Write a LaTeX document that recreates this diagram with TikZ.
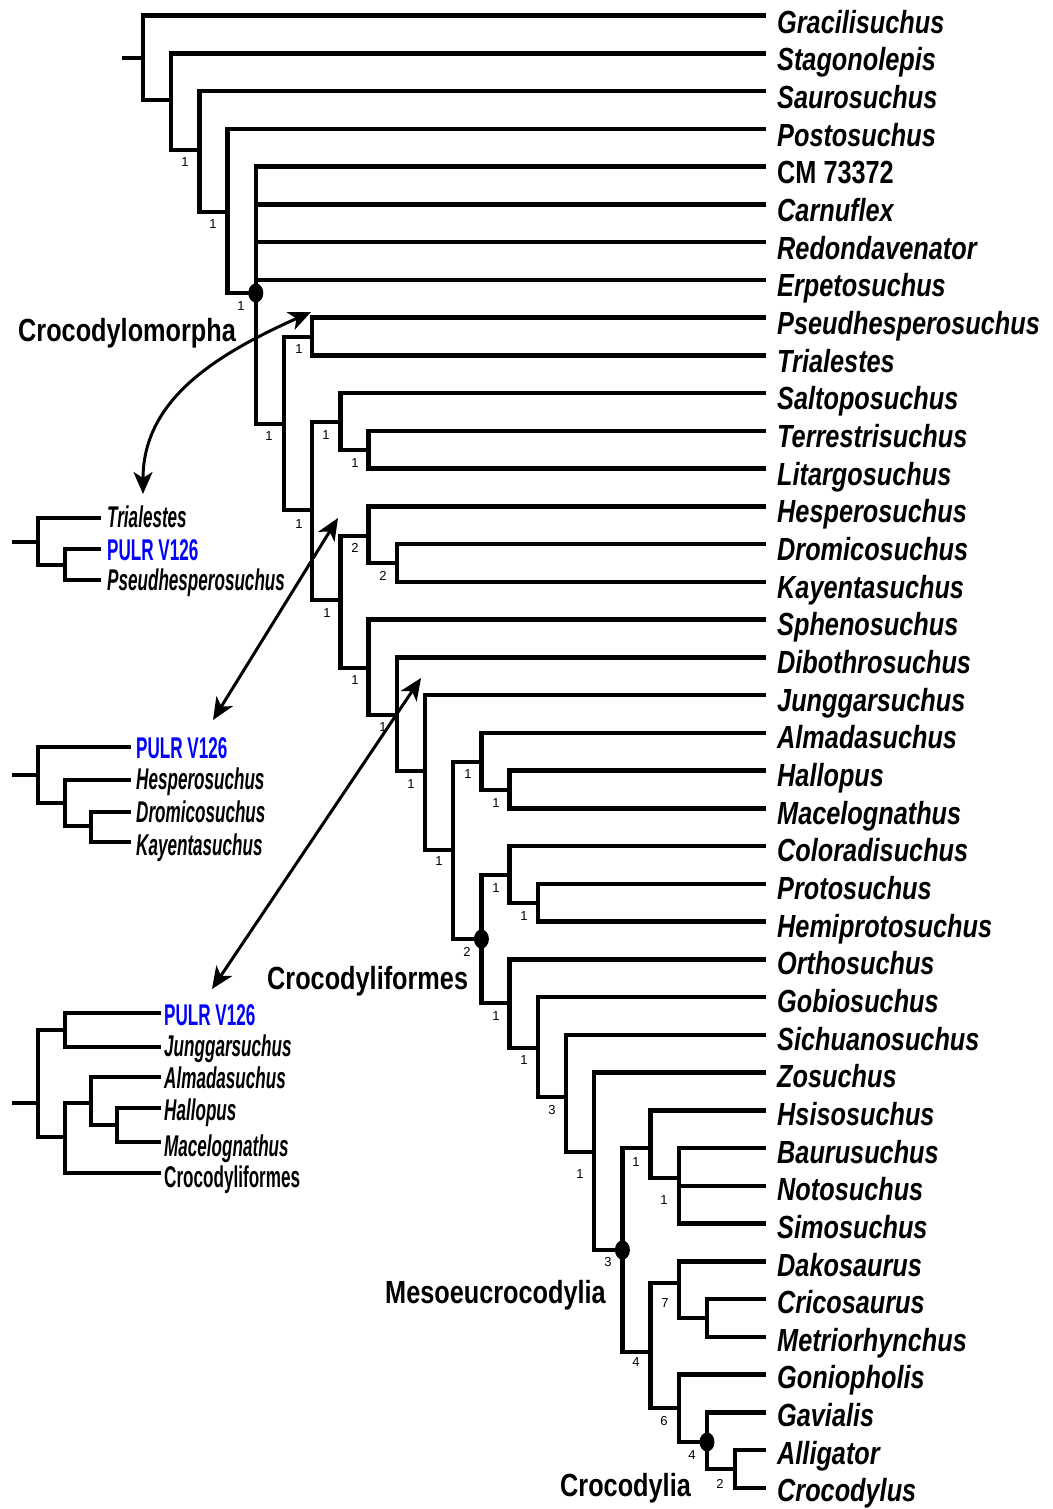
\documentclass[tikz,border=0pt]{standalone}
\usepackage{fontspec}
\setmainfont{Liberation Sans}[FakeStretch=0.79]
\newfontfamily\insetfont{Liberation Sans}[FakeStretch=0.57]
\newfontfamily\numfont{Liberation Sans}
\usetikzlibrary{arrows.meta,shapes.geometric}
\definecolor{pulrblue}{RGB}{0,0,255}
\begin{document}
\begin{tikzpicture}[x=1pt,y=-1pt,
  tree/.style={line width=4.5pt, line join=miter},
  taxon/.style={anchor=base west, inner sep=0pt, font=\fontsize{32}{36}\selectfont\bfseries\itshape},
  taxonup/.style={anchor=base west, inner sep=0pt, font=\fontsize{32}{36}\selectfont\bfseries},
  clade/.style={anchor=base west, inner sep=0pt, font=\fontsize{32}{36}\selectfont\bfseries},
  itax/.style={anchor=base west, inner sep=0pt, font=\insetfont\fontsize{30}{34}\selectfont\bfseries\itshape},
  itaxup/.style={anchor=base west, inner sep=0pt, font=\insetfont\fontsize{30}{34}\selectfont\bfseries},
  pulr/.style={itaxup, text=pulrblue},
  supp/.style={inner sep=0pt, font=\numfont\fontsize{13}{13}\selectfont},
  cladedot/.style={ellipse, fill=black, inner sep=0pt, minimum width=15pt, minimum height=19pt},
  arr/.style={line width=3pt, {Stealth[length=22pt,width=19pt,inset=6pt]}-{Stealth[length=22pt,width=19pt,inset=6pt]}}
]
\useasboundingbox (0,0) rectangle (1052,1509);

% leaf end points
\foreach \i in {0,...,39} \coordinate (l\i) at (766,{15.7+37.75*\i});

% internal nodes
\coordinate (root) at (122,58);
\coordinate (n0) at (143,58);
\coordinate (n1) at (171.2,100);
\coordinate (n2) at (199.4,150);
\coordinate (n3) at (227.6,212);
\coordinate (n4) at (255.8,293);
\coordinate (n5) at (284,424);
\coordinate (n6) at (312.2,337);
\coordinate (n7) at (312.2,510);
\coordinate (n8) at (340.4,422);
\coordinate (n10) at (368.6,450);
\coordinate (n9) at (340.4,600);
\coordinate (n11) at (368.6,536);
\coordinate (n13) at (396.8,563);
\coordinate (n12) at (368.6,668);
\coordinate (n14) at (396.8,715);
\coordinate (n15) at (425,771);
\coordinate (n16) at (453.2,850);
\coordinate (n17) at (481.4,762);
\coordinate (n19) at (509.6,790);
\coordinate (n18) at (481.4,939);
\coordinate (n20) at (509.6,875);
\coordinate (n22) at (537.8,903);
\coordinate (n21) at (509.6,1003);
\coordinate (n23) at (537.8,1048);
\coordinate (n24) at (566,1097);
\coordinate (n25) at (594.2,1152);
\coordinate (n26) at (622.4,1250);
\coordinate (n27) at (650.6,1148);
\coordinate (n29) at (678.8,1178);
\coordinate (n28) at (650.6,1352);
\coordinate (n30) at (678.8,1283);
\coordinate (n32) at (707,1318);
\coordinate (n31) at (678.8,1408);
\coordinate (n33) at (707,1442);
\coordinate (n34) at (735.2,1469);

% branches
\draw[tree] (root) -- (n0);
\draw[tree] (n0) |- (l0);  \draw[tree] (n0) |- (n1);
\draw[tree] (n1) |- (l1);  \draw[tree] (n1) |- (n2);
\draw[tree] (n2) |- (l2);  \draw[tree] (n2) |- (n3);
\draw[tree] (n3) |- (l3);  \draw[tree] (n3) |- (n4);
\draw[tree] (n4) |- (l4);  \draw[tree] (n4) |- (l5);  \draw[tree] (n4) |- (l6);  \draw[tree] (n4) |- (l7);  \draw[tree] (n4) |- (n5);
\draw[tree] (n5) |- (n6);  \draw[tree] (n5) |- (n7);
\draw[tree] (n6) |- (l8);  \draw[tree] (n6) |- (l9);
\draw[tree] (n7) |- (n8);  \draw[tree] (n7) |- (n9);
\draw[tree] (n8) |- (l10); \draw[tree] (n8) |- (n10);
\draw[tree] (n10) |- (l11); \draw[tree] (n10) |- (l12);
\draw[tree] (n9) |- (n11); \draw[tree] (n9) |- (n12);
\draw[tree] (n11) |- (l13); \draw[tree] (n11) |- (n13);
\draw[tree] (n13) |- (l14); \draw[tree] (n13) |- (l15);
\draw[tree] (n12) |- (l16); \draw[tree] (n12) |- (n14);
\draw[tree] (n14) |- (l17); \draw[tree] (n14) |- (n15);
\draw[tree] (n15) |- (l18); \draw[tree] (n15) |- (n16);
\draw[tree] (n16) |- (n17); \draw[tree] (n16) |- (n18);
\draw[tree] (n17) |- (l19); \draw[tree] (n17) |- (n19);
\draw[tree] (n19) |- (l20); \draw[tree] (n19) |- (l21);
\draw[tree] (n18) |- (n20); \draw[tree] (n18) |- (n21);
\draw[tree] (n20) |- (l22); \draw[tree] (n20) |- (n22);
\draw[tree] (n22) |- (l23); \draw[tree] (n22) |- (l24);
\draw[tree] (n21) |- (l25); \draw[tree] (n21) |- (n23);
\draw[tree] (n23) |- (l26); \draw[tree] (n23) |- (n24);
\draw[tree] (n24) |- (l27); \draw[tree] (n24) |- (n25);
\draw[tree] (n25) |- (l28); \draw[tree] (n25) |- (n26);
\draw[tree] (n26) |- (n27); \draw[tree] (n26) |- (n28);
\draw[tree] (n27) |- (l29); \draw[tree] (n27) |- (n29);
\draw[tree] (n29) |- (l30); \draw[tree] (n29) |- (l31); \draw[tree] (n29) |- (l32);
\draw[tree] (n28) |- (n30); \draw[tree] (n28) |- (n31);
\draw[tree] (n30) |- (l33); \draw[tree] (n30) |- (n32);
\draw[tree] (n32) |- (l34); \draw[tree] (n32) |- (l35);
\draw[tree] (n31) |- (l36); \draw[tree] (n31) |- (n33);
\draw[tree] (n33) |- (l37); \draw[tree] (n33) |- (n34);
\draw[tree] (n34) |- (l38); \draw[tree] (n34) |- (l39);

% clade dots
\node[cladedot] (dotA) at (n4) {};
\node[cladedot] (dotB) at (n18) {};
\node[cladedot] (dotC) at (n26) {};
\node[cladedot] (dotD) at (n33) {};

% taxon names
\foreach \i/\nm in {0/Gracilisuchus,1/Stagonolepis,2/Saurosuchus,3/Postosuchus,
  5/Carnuflex,6/Redondavenator,7/Erpetosuchus,8/Pseudhesperosuchus,9/Trialestes,
  10/Saltoposuchus,11/Terrestrisuchus,12/Litargosuchus,13/Hesperosuchus,14/Dromicosuchus,
  15/Kayentasuchus,16/Sphenosuchus,17/Dibothrosuchus,18/Junggarsuchus,19/Almadasuchus,
  20/Hallopus,21/Macelognathus,22/Coloradisuchus,23/Protosuchus,24/Hemiprotosuchus,
  25/Orthosuchus,26/Gobiosuchus,27/Sichuanosuchus,28/Zosuchus,29/Hsisosuchus,
  30/Baurusuchus,31/Notosuchus,32/Simosuchus,33/Dakosaurus,34/Cricosaurus,
  35/Metriorhynchus,36/Goniopholis,37/Gavialis,38/Alligator,39/Crocodylus}
  \node[taxon] (t\i) at (777,{15.7+37.75*\i+17.5-3.5*\i/39}) {\nm};
\node[taxonup] (t4) at (777,{15.7+37.75*4+17.5-3.5*4/39}) {CM 73372};

% clade names
\node[clade] (cmorpha) at (18,341) {Crocodylomorpha};
\node[clade] (cformes) at (267,989) {Crocodyliformes};
\node[clade] (meso) at (385,1303) {Mesoeucrocodylia};
\node[clade] (cdylia) at (560,1496) {Crocodylia};

% support values
\foreach \x/\y/\v [count=\k] in {185/162/1,213/224/1,241/306/1,299/349/1,269/436/1,326/435/1,
  355/463/1,299/524/1,355/548/2,383/576/2,327/613/1,355/680/1,383/727/1,411/784/1,
  468/774/1,496/803/1,439/861/1,496/888/1,524/916/1,467/952/2,496/1016/1,524/1060/1,
  552/1110/3,580/1174/1,636/1162/1,664/1200/1,608/1262/3,665/1303/7,636/1362/4,
  664/1421/6,692/1455/4,720/1484/2}
  \node[supp] (s\k) at (\x,\y) {\v};

% ---- inset 1 ----
\coordinate (ia0) at (12,542);
\coordinate (ia1) at (38,542);
\coordinate (ia2) at (65,565);
\coordinate (iaL1) at (101,518);
\coordinate (iaL2) at (101,549);
\coordinate (iaL3) at (101,580);
\draw[tree] (ia0) -- (ia1);
\draw[tree] (ia1) |- (iaL1); \draw[tree] (ia1) |- (ia2);
\draw[tree] (ia2) |- (iaL2); \draw[tree] (ia2) |- (iaL3);
\node[itax] (iaT1) at (107,527) {Trialestes};
\node[pulr] (iaT2) at (107,560) {PULR V126};
\node[itax] (iaT3) at (107,590) {Pseudhesperosuchus};

% ---- inset 2 ----
\coordinate (ib0) at (12,775);
\coordinate (ib1) at (38,775);
\coordinate (ib2) at (65,803);
\coordinate (ib3) at (91,826);
\coordinate (ibL1) at (131,747);
\coordinate (ibL2) at (131,780);
\coordinate (ibL3) at (131,812);
\coordinate (ibL4) at (131,842);
\draw[tree] (ib0) -- (ib1);
\draw[tree] (ib1) |- (ibL1); \draw[tree] (ib1) |- (ib2);
\draw[tree] (ib2) |- (ibL2); \draw[tree] (ib2) |- (ib3);
\draw[tree] (ib3) |- (ibL3); \draw[tree] (ib3) |- (ibL4);
\node[pulr] (ibT1) at (136,758) {PULR V126};
\node[itax] (ibT2) at (136,789) {Hesperosuchus};
\node[itax] (ibT3) at (136,822) {Dromicosuchus};
\node[itax] (ibT4) at (136,855) {Kayentasuchus};

% ---- inset 3 ----
\coordinate (ic0) at (12,1103);
\coordinate (ic1) at (38,1103);
\coordinate (ic2) at (65,1030);
\coordinate (ic3) at (65,1137);
\coordinate (ic4) at (91,1103);
\coordinate (ic5) at (117,1125);
\coordinate (icL1) at (161,1013);
\coordinate (icL2) at (161,1047);
\coordinate (icL3) at (161,1077);
\coordinate (icL4) at (161,1108);
\coordinate (icL5) at (161,1142);
\coordinate (icL6) at (161,1173);
\draw[tree] (ic0) -- (ic1);
\draw[tree] (ic1) |- (ic2); \draw[tree] (ic1) |- (ic3);
\draw[tree] (ic2) |- (icL1); \draw[tree] (ic2) |- (icL2);
\draw[tree] (ic3) |- (ic4); \draw[tree] (ic3) |- (icL6);
\draw[tree] (ic4) |- (icL3); \draw[tree] (ic4) |- (ic5);
\draw[tree] (ic5) |- (icL4); \draw[tree] (ic5) |- (icL5);
\node[pulr] (icT1) at (164,1025) {PULR V126};
\node[itax] (icT2) at (164,1056) {Junggarsuchus};
\node[itax] (icT3) at (164,1088) {Almadasuchus};
\node[itax] (icT4) at (164,1120) {Hallopus};
\node[itax] (icT5) at (164,1156) {Macelognathus};
\node[itaxup] (icT6) at (164,1187) {Crocodyliformes};

% ---- arrows ----
\coordinate (a1s) at (311,312);
\coordinate (a1e) at (143,494);
\coordinate (a2s) at (338,518);
\coordinate (a2e) at (213,720);
\coordinate (a3s) at (421,678);
\coordinate (a3e) at (212,989);
\draw[arr] (a1s) .. controls (215,355) and (143,400) .. (a1e);
\draw[arr] (a2s) -- (a2e);
\draw[arr] (a3s) -- (a3e);
\end{tikzpicture}
\end{document}
